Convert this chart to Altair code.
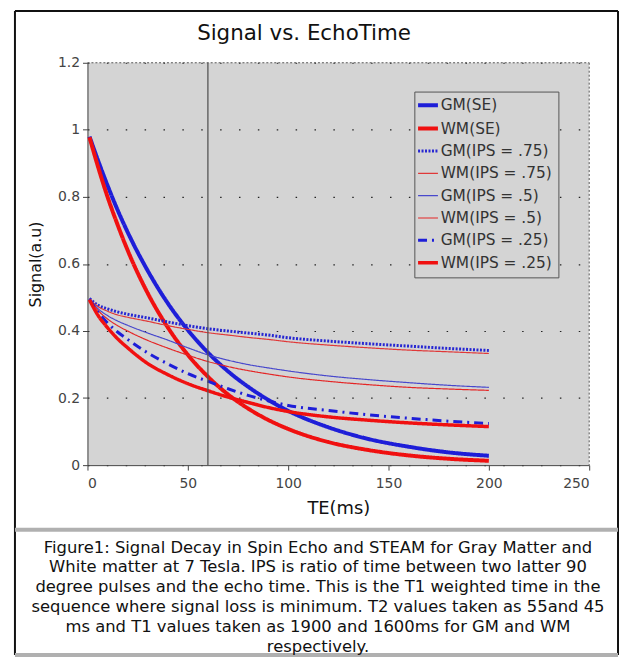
import altair as alt
import pandas as pd

# Echo time (ms) sample positions
te = [1, 5, 10, 15, 20, 30, 40, 50, 60, 70, 80, 90, 100, 120, 140, 160, 180, 200]

# Signal values (a.u.)
gm_se = [0.980, 0.913, 0.834, 0.761, 0.695, 0.580, 0.483, 0.403, 0.336, 0.280, 0.234, 0.195, 0.162, 0.113, 0.078, 0.055, 0.038, 0.028]
wm_se = [0.978, 0.895, 0.800, 0.717, 0.641, 0.513, 0.411, 0.329, 0.264, 0.211, 0.169, 0.135, 0.108, 0.069, 0.045, 0.029, 0.019, 0.013]
gm_75 = [0.497, 0.478, 0.466, 0.457, 0.450, 0.439, 0.427, 0.416, 0.407, 0.400, 0.394, 0.388, 0.380, 0.370, 0.362, 0.355, 0.348, 0.342]
wm_75 = [0.495, 0.474, 0.459, 0.448, 0.441, 0.429, 0.416, 0.405, 0.395, 0.388, 0.381, 0.375, 0.368, 0.358, 0.350, 0.343, 0.338, 0.333]
gm_50 = [0.496, 0.468, 0.446, 0.430, 0.417, 0.394, 0.373, 0.350, 0.329, 0.313, 0.300, 0.290, 0.281, 0.266, 0.255, 0.246, 0.238, 0.232]
wm_50 = [0.495, 0.463, 0.436, 0.416, 0.400, 0.372, 0.349, 0.328, 0.309, 0.294, 0.282, 0.272, 0.263, 0.250, 0.240, 0.232, 0.227, 0.223]
gm_25 = [0.494, 0.458, 0.424, 0.397, 0.375, 0.335, 0.302, 0.273, 0.250, 0.228, 0.208, 0.192, 0.178, 0.163, 0.150, 0.140, 0.131, 0.124]
wm_25 = [0.493, 0.449, 0.410, 0.377, 0.350, 0.303, 0.270, 0.243, 0.222, 0.203, 0.187, 0.172, 0.160, 0.144, 0.134, 0.126, 0.120, 0.115]

series = ["GM(SE)", "WM(SE)", "GM(IPS = .75)", "WM(IPS = .75)",
          "GM(IPS = .5)", "WM(IPS = .5)", "GM(IPS = .25)", "WM(IPS = .25)"]
values = [gm_se, wm_se, gm_75, wm_75, gm_50, wm_50, gm_25, wm_25]

marker_te = [60]

x_ticks = [0, 50, 100, 150, 200, 250]
y_ticks = [0, 0.2, 0.4, 0.6, 0.8, 1.0, 1.2]

title_text = "Signal vs. EchoTime"
caption = ("Figure1: Signal Decay in Spin Echo and STEAM for  Gray Matter and\n"
           "White matter at 7 Tesla. IPS is ratio of  time between two latter 90\n"
           "degree pulses and the echo time. This is the T1 weighted time in the\n"
           "sequence where signal loss is minimum. T2 values taken as 55and 45\n"
           "ms and T1 values taken as 1900 and 1600ms for GM and WM\n"
           "respectively.")

# styles
colors = ["#1e1ed8", "#f01010", "#2626d2", "#e03838", "#4848cc", "#e42626", "#1e1ed8", "#f01010"]
dashes = [[1, 0], [1, 0], [2, 1.5], [1, 0], [1, 0], [1, 0], [9, 5, 2, 5], [1, 0]]
widths = [4, 4, 3, 1.2, 1.2, 1.2, 3, 3.5]

rows = []
for name, vals in zip(series, values):
    for t, v in zip(te, vals):
        rows.append({"TE": t, "Signal": v, "series": name})
df = pd.DataFrame(rows)

W, H = 505, 405
FONT = "DejaVu Sans"

width_conditions = [
    {"test": f"datum.series == '{s}'", "value": w} for s, w in zip(series, widths)
]
legend_width_expr = " : ".join(
    [f"datum.value == '{s}' ? {w}" for s, w in zip(series, widths)]
) + " : 1"

xscale = alt.Scale(domain=[0, 250], nice=False)
yscale = alt.Scale(domain=[0, 1.2], nice=False)

lines = alt.Chart(df).mark_line(interpolate="monotone").encode(
    x=alt.X("TE:Q", scale=xscale,
            axis=alt.Axis(values=x_ticks, title="TE(ms)", grid=False,
                          labelPadding=7, titlePadding=9, titleFontSize=18)),
    y=alt.Y("Signal:Q", scale=yscale,
            axis=alt.Axis(values=y_ticks, format="~g", title="Signal(a.u)", grid=True,
                          gridDash=[1.5, 17.5], gridColor="#222", gridWidth=1.2,
                          labelPadding=3, titlePadding=14, titleFontSize=16)),
    color=alt.Color("series:N", sort=series,
                    scale=alt.Scale(domain=series, range=colors),
                    legend=alt.Legend(
                        title=None, orient="none", legendX=329, legendY=29,
                        symbolType="stroke", symbolSize=400,
                        labelFont=FONT, labelFontSize=15.5, labelColor="#333",
                        rowPadding=5.5, padding=6, labelOffset=5,
                        fillColor="#d4d4d4", strokeColor="#555",
                        symbolStrokeWidth=alt.expr(legend_width_expr),
                    )),
    strokeDash=alt.StrokeDash("series:N", sort=series,
                              scale=alt.Scale(domain=series, range=dashes)),
    strokeWidth={"condition": width_conditions, "value": 1},
)

vline = alt.Chart(pd.DataFrame({"TE": marker_te})).mark_rule(
    color="#555", strokeWidth=1.3).encode(x=alt.X("TE:Q", scale=xscale))

one = alt.Data(values=[{}])
top_border = alt.Chart(one).mark_rule(color="#555", strokeDash=[2, 2], strokeWidth=1).encode(
    x=alt.value(0), x2=alt.value(W), y=alt.value(0))
right_border = alt.Chart(one).mark_rule(color="#555", strokeDash=[2, 2], strokeWidth=1).encode(
    x=alt.value(W), y=alt.value(0), y2=alt.value(H))

FL, FR, FT, FB, FB2 = -73, 534, -52, 470, 596
frame_l = alt.Chart(one).mark_rule(color="#111", strokeWidth=2).encode(
    x=alt.value(FL), y=alt.value(FT), y2=alt.value(FB2))
frame_r = alt.Chart(one).mark_rule(color="#111", strokeWidth=2).encode(
    x=alt.value(FR), y=alt.value(FT), y2=alt.value(FB2))
frame_t = alt.Chart(one).mark_rule(color="#111", strokeWidth=2).encode(
    x=alt.value(FL), x2=alt.value(FR), y=alt.value(FT))
bar1 = alt.Chart(one).mark_rule(color="#b0b0b0", strokeWidth=4).encode(
    x=alt.value(FL), x2=alt.value(FR), y=alt.value(FB))
bar2 = alt.Chart(one).mark_rule(color="#b0b0b0", strokeWidth=4).encode(
    x=alt.value(FL), x2=alt.value(FR), y=alt.value(FB2))

title = alt.Chart(one).mark_text(
    text=title_text, align="center", baseline="alphabetic",
    font=FONT, fontSize=21.5, color="#111").encode(
    x=alt.value(218), y=alt.value(-23))

cap = alt.Chart(one).mark_text(
    text=caption, lineBreak="\n", align="center", baseline="top",
    font=FONT, fontSize=16.5, lineHeight=20, color="#111").encode(
    x=alt.value(232), y=alt.value(480))

chart = alt.layer(lines, vline, top_border, right_border,
                  frame_l, frame_r, frame_t, bar1, bar2, title, cap).properties(
    width=W, height=H,
    padding={"left": 5, "top": 0, "right": 0, "bottom": 0},
).configure_view(fill="#d4d4d4", strokeWidth=0).configure_axis(
    labelFont=FONT, labelFontSize=14, labelColor="#444",
    titleFont=FONT, titleFontWeight="normal", titleColor="#111",
    domainColor="#444", tickColor="#444", tickSize=5,
)

chart.save("out.html", embed_options={"renderer": "svg", "actions": False})
